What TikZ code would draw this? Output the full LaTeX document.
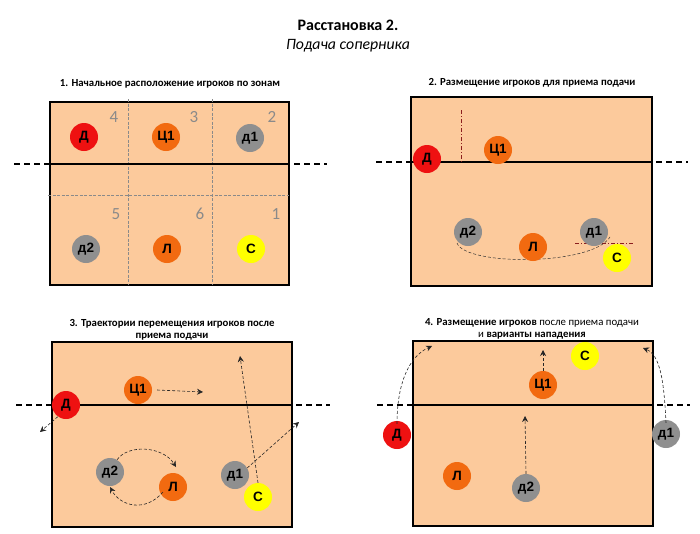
\documentclass[tikz,border=0pt]{standalone}
\usepackage{fontspec}
\setmainfont{Carlito}
\newfontfamily\arialf{Liberation Sans}
\usetikzlibrary{arrows.meta}
\definecolor{courtfill}{HTML}{FCCA9C}
\definecolor{pred}{HTML}{EE1111}
\definecolor{porange}{HTML}{F26A10}
\definecolor{pgray}{HTML}{8F8F8F}
\definecolor{pyellow}{HTML}{FFFF00}
\definecolor{zonegray}{HTML}{8A8A8A}
\definecolor{dred}{HTML}{8B1E1E}
\tikzset{
  courtbox/.style={draw=black, line width=1.3pt, fill=courtfill},
  netdash/.style={draw=black, line width=1.1pt, dash pattern=on 6pt off 4pt},
  netsolid/.style={draw=black, line width=1.1pt},
  zoneline/.style={draw=zonegray, line width=0.5pt, dash pattern=on 3pt off 1.5pt},
  zonenum/.style={text=zonegray, font=\fontsize{17}{17}\selectfont, inner sep=0},
  player/.style={circle, minimum size=28pt, inner sep=0, font=\arialf\bfseries\fontsize{13.5}{13.5}\selectfont},
  pR/.style={player, fill=pred},
  pO/.style={player, fill=porange},
  pG/.style={player, fill=pgray},
  pY/.style={player, fill=pyellow},
  ptitle/.style={font=\bfseries\fontsize{10.8}{12}\selectfont, align=center, inner sep=0},
  mover/.style={draw=black!85, line width=0.6pt, dash pattern=on 3pt off 2pt, -{Stealth[length=6pt,width=6pt,inset=2pt]}},
  dashdot/.style={draw=dred, line width=0.8pt, dash pattern=on 4pt off 2pt on 1pt off 2pt},
  thinarc/.style={draw=black!80, line width=0.5pt, dash pattern=on 3pt off 2pt}
}
\begin{document}
\begin{tikzpicture}[x=1pt,y=-1pt]
\useasboundingbox (0,0) rectangle (700,533);
% titles
\node[font=\bfseries\fontsize{16}{16}\selectfont, inner sep=0] (title) at (348,25) {Расстановка 2.};
\node[font=\itshape\fontsize{15.8}{16}\selectfont, inner sep=0] (subtitle) at (348,46) {Подача соперника};

% ---------- Panel 1 ----------
\node[ptitle] (t1) at (170,84) {1. Начальное расположение игроков по зонам};
\draw[courtbox] (50,102) rectangle (289,285);
\draw[zoneline] (128,99) -- (128,284);
\draw[zoneline] (212,99) -- (212,284);
\draw[zoneline] (48,195) -- (289,195);
\draw[netdash] (14,164) -- (327,164);
\draw[netsolid] (50,164) -- (289,164);
\node[zonenum] (z4) at (114,117) {4};
\node[zonenum] (z3) at (194,117) {3};
\node[zonenum] (z2) at (272,117) {2};
\node[zonenum] (z5) at (116,214) {5};
\node[zonenum] (z6) at (200,214) {6};
\node[zonenum] (z1) at (276,214) {1};
\node[pR] (a1) at (84,137) {Д};
\node[pO] (a2) at (166,137) {Ц1};
\node[pG] (a3) at (250,138) {д1};
\node[pG] (a4) at (86,249) {д2};
\node[pO] (a5) at (167,249) {Л};
\node[pY] (a6) at (251,249) {С};

% ---------- Panel 2 ----------
\node[ptitle] (t2) at (532,83) {2. Размещение игроков для приема подачи};
\draw[courtbox] (411,97) rectangle (652,286);
\draw[netdash] (376,162) -- (688,162);
\draw[netsolid] (411,162) -- (652,162);
\draw[dashdot] (461,110) -- (461,162);
\draw[dashdot] (575,243) -- (633,243);
\draw[thinarc] (457,243) .. controls (465,266) and (592,266) .. (610,237);
\node[pR] (b1) at (427,159) {Д};
\node[pO] (b2) at (498,150) {Ц1};
\node[pG] (b3) at (468,232) {д2};
\node[pO] (b4) at (533,247) {Л};
\node[pG] (b5) at (594,232) {д1};
\node[pY] (b6) at (617,258) {С};

% ---------- Panel 3 ----------
\node[ptitle] (t3) at (172,330) {3. Траектории перемещения игроков после\\приема подачи};
\draw[courtbox] (52,342) rectangle (292,527);
\draw[netdash] (16,405) -- (330,405);
\draw[netsolid] (52,405) -- (292,405);
\node[pR] (c1) at (66,405) {Д};
\node[pO] (c2) at (138,390) {Ц1};
\node[pG] (c3) at (110,472) {д2};
\node[pO] (c4) at (173,487) {Л};
\node[pG] (c5) at (235,475) {д1};
\node[pY] (c6) at (258,497) {С};
\coordinate (c1e) at (40,432);
\coordinate (c2e) at (203,392);
\coordinate (c3e) at (176,467);
\coordinate (c4e) at (110,487);
\coordinate (c5e) at (299,422);
\coordinate (c6e) at (240,356);
\draw[mover] (c1.-125) -- (c1e);
\draw[mover] ([xshift=5pt]c2.east) -- (c2e);
\draw[mover] (c3.60) .. controls (128,444) and (163,446) .. (c3e);
\draw[mover] ([yshift=5pt]c4.south west) .. controls (145,513) and (120,506) .. (c4e);
\draw[mover] (c6.north) -- (c6e);
\draw[mover] (c5.30) -- (c5e);

% ---------- Panel 4 ----------
\node[ptitle] (t4) at (532,329) {4. Размещение игроков \mdseries после приема подачи\\ \mdseries и \bfseries варианты нападения};
\draw[courtbox] (413,341) rectangle (653,526);
\draw[netdash] (377,405) -- (690,405);
\draw[netsolid] (413,405) -- (653,405);
\node[pR] (d1) at (397,435) {Д};
\node[pO] (d2) at (457,476) {Л};
\node[pG] (d3) at (526,488) {д2};
\node[pO] (d4) at (543,385) {Ц1};
\node[pY] (d5) at (585,356) {С};
\node[pG] (d6) at (666,434) {д1};
\coordinate (d1e) at (432,346);
\coordinate (d6e) at (643,348);
\coordinate (d4e) at (543,350);
\coordinate (d3e) at (525,416);
\draw[mover] ([yshift=-3pt]d1.north) .. controls (397,385) and (408,357) .. (d1e);
\draw[mover] ([yshift=-3pt]d6.north) .. controls (664,380) and (660,355) .. (d6e);
\draw[mover] (d4.north) -- (d4e);
\draw[mover] (d3.north) -- (d3e);
\end{tikzpicture}
\end{document}
